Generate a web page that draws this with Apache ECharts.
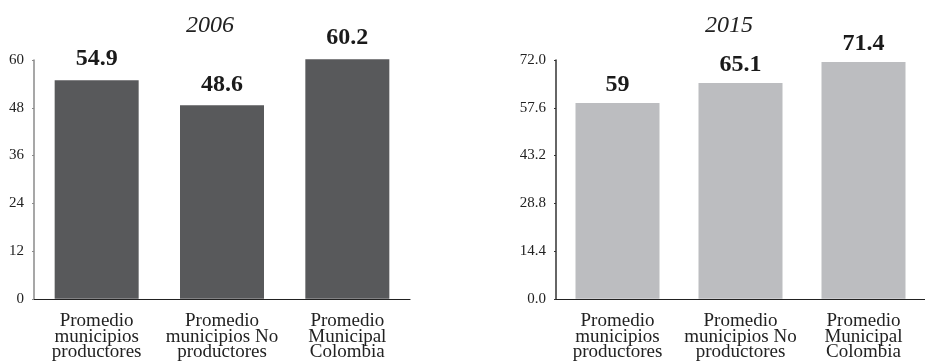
<!DOCTYPE html>
<html>
<head>
<meta charset="utf-8">
<script src="https://cdn.jsdelivr.net/npm/echarts@6/dist/echarts.min.js"></script>
<style>html,body{margin:0;padding:0;background:#fff;}#c{width:925px;height:362px;}</style>
</head>
<body>
<div id="c"></div>
<script>
const categories = ['Promedio\nmunicipios\nproductores', 'Promedio\nmunicipios No\nproductores', 'Promedio\nMunicipal\nColombia'];
const titles = ['2006', '2015'];
const values2006 = [54.9, 48.6, 60.2];
const values2015 = [59, 65.1, 71.4];
const ticks2006 = [0, 12, 24, 36, 48, 60];
const ticks2015 = [0.0, 14.4, 28.8, 43.2, 57.6, 72.0];

const serif = 'Liberation Serif';
const chart = echarts.init(document.getElementById('c'));

function yAxis(gi, ticks, axisColor, dec) {
  return {
    type: 'value', gridIndex: gi,
    min: ticks[0], max: ticks[ticks.length - 1], interval: ticks[1] - ticks[0],
    axisLine: {show: true, lineStyle: {color: axisColor, width: 1.5}},
    axisTick: {show: true, length: 2, lineStyle: {color: axisColor}},
    splitLine: {show: false},
    axisLabel: {margin: 10, color: '#222', fontFamily: serif, fontSize: 15,
      formatter: v => dec ? v.toFixed(1) : String(v)}
  };
}
function xAxis(gi) {
  return {
    type: 'category', gridIndex: gi, data: categories,
    axisLine: {show: true, lineStyle: {color: '#222', width: 1.2}},
    axisTick: {show: false},
    axisLabel: {margin: 15, color: '#222', fontFamily: serif, fontSize: 19, lineHeight: 15.5, interval: 0}
  };
}
function barSeries(gi, data, color, dist) {
  return {
    type: 'bar', xAxisIndex: gi, yAxisIndex: gi, data: data, barWidth: 84,
    itemStyle: {color: color}, clip: false,
    label: {show: true, position: 'top', distance: dist, color: '#1a1a1a',
      fontFamily: serif, fontWeight: 'bold', fontSize: 24}
  };
}

chart.setOption({
  animation: false,
  backgroundColor: '#fff',
  title: [
    {text: titles[0], left: 205, top: 9, textAlign: 'center',
      textStyle: {fontFamily: serif, fontStyle: 'italic', fontWeight: 'normal', fontSize: 24, color: '#222'}},
    {text: titles[1], left: 724, top: 9, textAlign: 'center',
      textStyle: {fontFamily: serif, fontStyle: 'italic', fontWeight: 'normal', fontSize: 24, color: '#222'}}
  ],
  grid: [
    {left: 34, top: 60, width: 376, height: 240},
    {left: 556, top: 60, width: 376, height: 240}
  ],
  xAxis: [xAxis(0), xAxis(1)],
  yAxis: [yAxis(0, ticks2006, '#8a8a8a', false), yAxis(1, ticks2015, '#333', true)],
  series: [
    barSeries(0, values2006, '#58595B', 9),
    barSeries(1, values2015, '#BCBDC0', 6)
  ]
});
</script>
</body>
</html>
